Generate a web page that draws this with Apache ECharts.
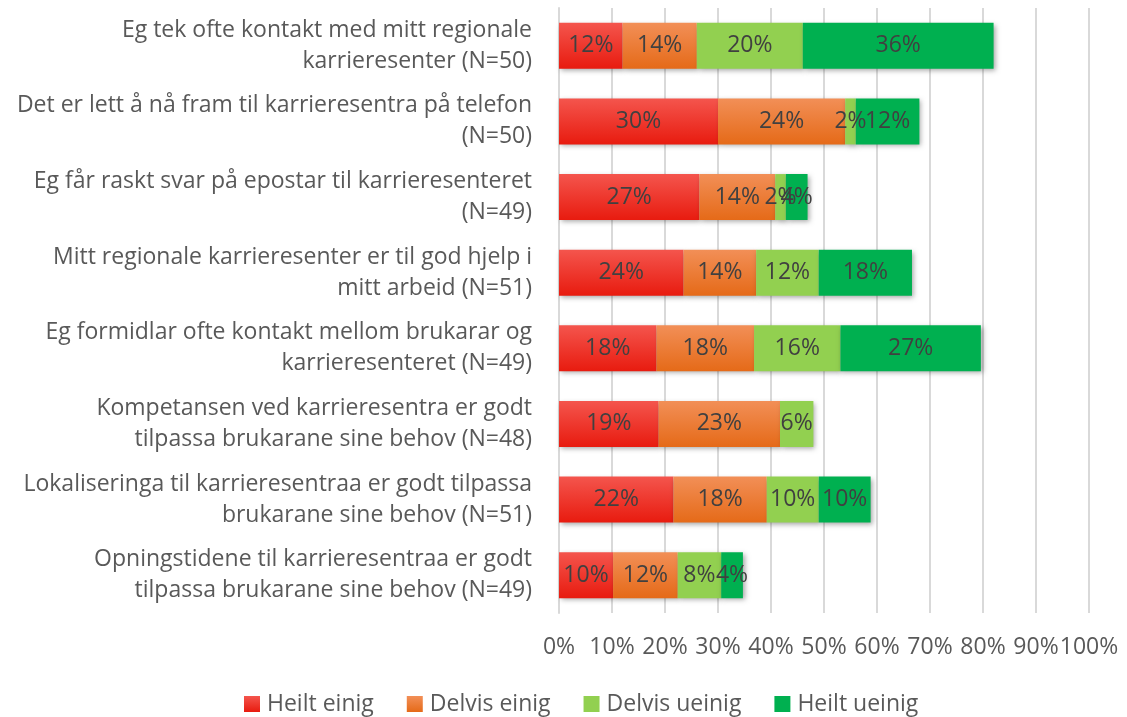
<!DOCTYPE html>
<html>
<head>
<meta charset="utf-8">
<script src="https://cdn.jsdelivr.net/npm/echarts@6/dist/echarts.min.js"></script>
<style>
html,body{margin:0;padding:0;background:#fff;}
#chart{width:1127px;height:717px;}
</style>
</head>
<body>
<div id="chart"></div>
<script>
const categories = [
  "Eg tek ofte kontakt med mitt regionale\nkarrieresenter (N=50)",
  "Det er lett å nå fram til karrieresentra på telefon\n(N=50)",
  "Eg får raskt svar på epostar til karrieresenteret\n(N=49)",
  "Mitt regionale karrieresenter er til god hjelp i\nmitt arbeid (N=51)",
  "Eg formidlar ofte kontakt mellom brukarar og\nkarrieresenteret (N=49)",
  "Kompetansen ved karrieresentra er godt\ntilpassa brukarane sine behov (N=48)",
  "Lokaliseringa til karrieresentraa er godt tilpassa\nbrukarane sine behov (N=51)",
  "Opningstidene til karrieresentraa er godt\ntilpassa brukarane sine behov (N=49)"
];
const seriesNames = ["Heilt einig", "Delvis einig", "Delvis ueinig", "Heilt ueinig"];
const heiltEinig   = [12, 30, 26.5, 23.5, 18.4, 18.8, 21.6, 10.2];
const delvisEinig  = [14, 24, 14.3, 13.7, 18.4, 22.9, 17.6, 12.2];
const delvisUeinig = [20, 2, 2.0, 11.8, 16.3, 6.3, 9.8, 8.2];
const heiltUeinig  = [36, 12, 4.1, 17.6, 26.5, 0, 9.8, 4.1];
const xTicks = [0, 10, 20, 30, 40, 50, 60, 70, 80, 90, 100];

const FONT = 'Open Sans';
const FS = 23;
const grad = (top, bottom) => new echarts.graphic.LinearGradient(0, 0, 0, 1, [
  {offset: 0, color: top}, {offset: 1, color: bottom}
]);
const styles = [
  {color: grad('#F4554D', '#E81B0F'), legend: grad('#F4554D', '#E81B0F')},
  {color: grad('#F28F57', '#E56A18'), legend: grad('#F28F57', '#E56A18')},
  {color: '#92D050', legend: '#92D050'},
  {color: '#00B050', legend: '#00B050'}
];
const allData = [heiltEinig, delvisEinig, delvisUeinig, heiltUeinig];

const chart = echarts.init(document.getElementById('chart'), null, {renderer: 'canvas'});
chart.setOption({
  animation: false,
  textStyle: {fontFamily: FONT},
  grid: {left: 559, right: 38, top: 8, bottom: 104, containLabel: false},
  legend: {
    top: 686,
    left: 239,
    itemWidth: 16, itemHeight: 16, itemGap: 33,
    icon: 'rect',
    textStyle: {fontFamily: FONT, fontSize: FS, lineHeight: 26, color: '#595959', padding: [0, 0, 0, 2]},
    data: seriesNames.map((n, i) => ({name: n, itemStyle: {color: styles[i].legend}}))
  },
  xAxis: {
    type: 'value', min: 0, max: 100, interval: 10,
    axisLine: {show: false}, axisTick: {show: false},
    splitLine: {show: true, lineStyle: {color: '#D9D9D9', width: 2}},
    axisLabel: {
      formatter: v => v + '%', margin: 23,
      fontFamily: FONT, fontSize: FS, color: '#595959'
    }
  },
  yAxis: {
    type: 'category', inverse: true, data: categories,
    axisLine: {show: true, lineStyle: {color: '#D9D9D9', width: 2}},
    axisTick: {show: false},
    axisLabel: {
      margin: 27, align: 'right', lineHeight: 31,
      fontFamily: FONT, fontSize: FS, color: '#595959'
    }
  },
  series: allData.map((d, i) => ({
    name: seriesNames[i],
    type: 'bar', stack: 'total', barWidth: 46,
    data: d,
    itemStyle: {
      color: styles[i].color,
      shadowBlur: 5, shadowOffsetX: 2, shadowOffsetY: 2, shadowColor: 'rgba(0,0,0,0.35)'
    },
    label: {
      show: true, position: 'inside',
      formatter: p => p.value > 0 ? Math.round(p.value) + '%' : '',
      fontFamily: FONT, fontSize: FS, color: '#404040'
    }
  }))
});
</script>
</body>
</html>
